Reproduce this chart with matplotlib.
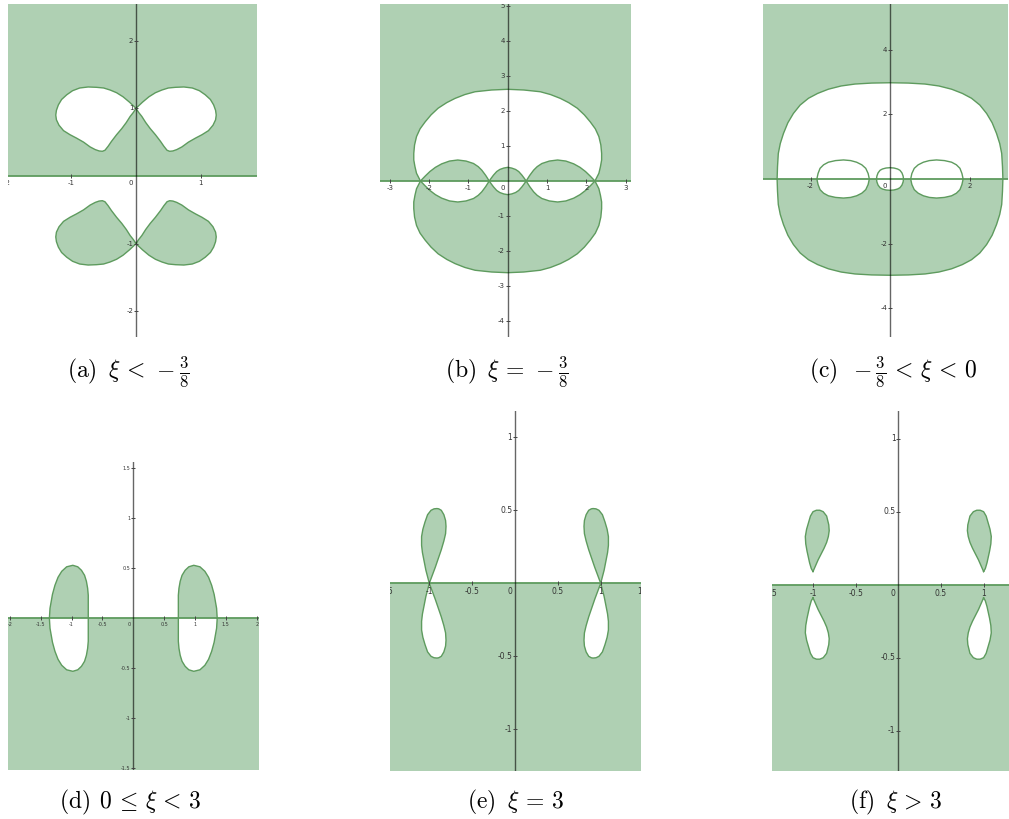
import matplotlib
matplotlib.use("Agg")
import matplotlib.pyplot as plt
from matplotlib.patches import Rectangle

plt.rcParams["mathtext.fontset"] = "cm"

FILL = "#afd0b3"
EDGE = "#5e9b5e"
W, H = 1009, 819

# (a) xi < -3/8 : upper-left lobe (white); the other lobes are mirror images
a_lobe_x = [0.0, -0.10, -0.20, -0.30, -0.40, -0.50, -0.61, -0.74, -0.87, -0.98, -1.07, -1.15,
            -1.20, -1.23, -1.24, -1.23, -1.19, -1.12, -1.02, -0.92, -0.81, -0.71, -0.63, -0.57,
            -0.52, -0.48, -0.43, -0.38, -0.30, -0.22, -0.15, -0.09, -0.04]
a_lobe_y = [1.0, 1.09, 1.17, 1.23, 1.27, 1.30, 1.31, 1.315, 1.30, 1.26, 1.20, 1.13,
            1.05, 0.97, 0.90, 0.83, 0.75, 0.67, 0.61, 0.56, 0.50, 0.43, 0.39, 0.37,
            0.365, 0.38, 0.44, 0.51, 0.61, 0.70, 0.79, 0.88, 0.94]

# (b) xi = -3/8 : quarter of the big oval (left crossing -> top), upper halves of small lobes
b_oval_x = [-2.22, -2.32, -2.36, -2.39, -2.39, -2.37, -2.32, -2.23, -2.10, -1.95, -1.77,
            -1.55, -1.34, -1.09, -0.83, -0.41, 0.0]
b_oval_y = [0.0, 0.22, 0.41, 0.60, 0.79, 1.03, 1.27, 1.49, 1.69, 1.89, 2.08,
            2.24, 2.36, 2.47, 2.55, 2.60, 2.62]
b_lobe_x = [-2.22, -2.10, -1.98, -1.84, -1.68, -1.48, -1.27, -1.06, -0.87, -0.75, -0.66, -0.56, -0.47]
b_lobe_y = [0.0, 0.14, 0.27, 0.39, 0.49, 0.57, 0.60, 0.57, 0.50, 0.41, 0.31, 0.16, 0.0]
b_mid_x = [-0.47, -0.42, -0.36, -0.28, -0.20, -0.10, 0.0]
b_mid_y = [0.0, 0.08, 0.17, 0.27, 0.33, 0.37, 0.39]

# (c) -3/8 < xi < 0
c_oval_x = [-2.84, -2.83, -2.81, -2.76, -2.68, -2.57, -2.43, -2.26, -2.05, -1.82, -1.55,
            -1.23, -0.88, -0.46, 0.0]
c_oval_y = [0.0, 0.38, 0.79, 1.10, 1.41, 1.74, 2.03, 2.29, 2.50, 2.65, 2.78,
            2.88, 2.94, 2.97, 2.98]
c_lobe_x = [-1.84, -1.81, -1.76, -1.67, -1.55, -1.37, -1.17, -0.99, -0.84, -0.71, -0.61, -0.55, -0.52]
c_lobe_y = [0.0, 0.17, 0.33, 0.44, 0.52, 0.57, 0.59, 0.57, 0.52, 0.44, 0.33, 0.17, 0.0]
c_mid_x = [-0.34, -0.33, -0.30, -0.25, -0.19, -0.10, 0.0]
c_mid_y = [0.0, 0.09, 0.19, 0.27, 0.31, 0.34, 0.35]

# (d) 0 <= xi < 3 : upper half of the left lobe
d_lobe_x = [-1.36, -1.35, -1.31, -1.27, -1.22, -1.16, -1.08, -0.98, -0.90, -0.84,
            -0.79, -0.76, -0.74, -0.73, -0.73]
d_lobe_y = [0.0, 0.10, 0.24, 0.33, 0.41, 0.47, 0.515, 0.53, 0.515, 0.48,
            0.43, 0.37, 0.30, 0.23, 0.0]

# (e) xi = 3 : upper-left loop
e_loop_x = [-1.0, -0.965, -0.93, -0.895, -0.86, -0.83, -0.81, -0.805, -0.81, -0.83, -0.86,
            -0.89, -0.91, -0.945, -0.98, -1.02, -1.05, -1.075, -1.09, -1.09, -1.08, -1.06, -1.04, -1.02]
e_loop_y = [0.0, 0.055, 0.11, 0.17, 0.23, 0.29, 0.34, 0.39, 0.43, 0.47, 0.50,
            0.51, 0.512, 0.51, 0.50, 0.47, 0.42, 0.37, 0.32, 0.26, 0.21, 0.15, 0.09, 0.045]

# (f) xi > 3 : upper-left teardrop
f_drop_x = [-1.0, -0.97, -0.94, -0.905, -0.87, -0.84, -0.82, -0.81, -0.815, -0.84, -0.88,
            -0.92, -0.96, -1.00, -1.03, -1.05, -1.075, -1.09, -1.085, -1.07, -1.04, -1.02]
f_drop_y = [0.09, 0.13, 0.17, 0.21, 0.25, 0.29, 0.33, 0.37, 0.41, 0.47, 0.50,
            0.51, 0.51, 0.50, 0.47, 0.43, 0.38, 0.33, 0.28, 0.23, 0.15, 0.11]

captions = [r"$\mathrm{(a)}\;\;\xi\,<\,-\frac{3}{8}$",
            r"$\mathrm{(b)}\;\;\xi\,=\,-\frac{3}{8}$",
            r"$\mathrm{(c)}\;\;-\frac{3}{8}\,<\,\xi\,<\,0$",
            r"$\mathrm{(d)}\;\,0\,\leq\,\xi\,<\,3$",
            r"$\mathrm{(e)}\;\;\xi\,=\,3$",
            r"$\mathrm{(f)}\;\;\xi\,>\,3$"]


def neg(v):
    return [-t for t in v]


def quarter_to_half(xs, ys):
    return xs + neg(xs[::-1][1:]), ys + ys[::-1][1:]


def half_to_full(xs, ys):
    return xs + xs[::-1][1:-1], ys + neg(ys[::-1])[1:-1]


def draw_panel(box, origin, scale, up_bg, down_bg, shapes, xticks, yticks, fs):
    x0, y0, x1, y1 = box
    ox, oy = origin
    sx, sy = scale
    ax = fig.add_axes([x0 / W, 1 - y1 / H, (x1 - x0) / W, (y1 - y0) / H])
    xlim = ((x0 - ox) / sx, (x1 - ox) / sx)
    ylim = ((oy - y1) / sy, (oy - y0) / sy)
    ax.set_xlim(xlim)
    ax.set_ylim(ylim)
    ax.axis("off")
    ax.axhspan(0, ylim[1], color=up_bg, lw=0, zorder=0)
    ax.axhspan(ylim[0], 0, color=down_bg, lw=0, zorder=0)
    upper = Rectangle((xlim[0], 0), xlim[1] - xlim[0], ylim[1], transform=ax.transData)
    lower = Rectangle((xlim[0], ylim[0]), xlim[1] - xlim[0], -ylim[0], transform=ax.transData)
    for xs, ys, c_up, c_down in shapes:
        for c, clip in ((c_up, upper), (c_down, lower)):
            p = ax.fill(xs, ys, color=c, lw=0, zorder=1)[0]
            p.set_clip_path(clip)
    for xs, ys, _, _ in shapes:
        ax.plot(xs + xs[:1], ys + ys[:1], color=EDGE, lw=1.0, zorder=3,
                solid_joinstyle="round")
    ax.axhline(0, color=EDGE, lw=1.3, zorder=3)
    ax.axvline(0, color="black", alpha=0.6, lw=1.0, zorder=4)
    for t in xticks:
        ax.plot([t], [0], marker="|", ms=3, color="#444", mew=0.7, zorder=4)
        lab = ax.annotate(f"{t:g}", (t, 0), xytext=(0, -3), textcoords="offset points",
                          ha="center", va="top", fontsize=fs, color="#333",
                          annotation_clip=False)
        lab.set_clip_box(ax.bbox)
        lab.set_clip_on(True)
    for t in yticks:
        ax.plot([0], [t], marker="_", ms=3, color="#444", mew=0.7, zorder=4)
        lab = ax.annotate(f"{t:g}", (0, t), xytext=(-2, 0), textcoords="offset points",
                          ha="right", va="center", fontsize=fs, color="#333")
        lab.set_clip_box(ax.bbox)
        lab.set_clip_on(True)
    ax.annotate("0", (0, 0), xytext=(-2, -3), textcoords="offset points",
                ha="right", va="top", fontsize=fs, color="#333")
    return ax


fig = plt.figure(figsize=(W / 100, H / 100), dpi=100)

# (a)
shapes_a = []
for fx in (1, -1):
    xs = [fx * v for v in a_lobe_x]
    shapes_a.append((xs, a_lobe_y, "white", "white"))
    shapes_a.append((xs, neg(a_lobe_y), FILL, FILL))
draw_panel((8, 4, 257, 337), (136, 176), (64.7, 67.7), FILL, "white", shapes_a,
           [-2, -1, 1], [-2, -1, 1, 2], 5)

# (b)
bx, by = half_to_full(*quarter_to_half(b_oval_x, b_oval_y))
shapes_b = [(bx, by, "white", FILL)]
lx, ly = half_to_full(b_lobe_x, b_lobe_y)
shapes_b.append((lx, ly, FILL, "white"))
shapes_b.append((neg(lx), ly, FILL, "white"))
mx, my = half_to_full(*quarter_to_half(b_mid_x, b_mid_y))
shapes_b.append((mx, my, FILL, "white"))
draw_panel((380, 4, 631, 337), (507.7, 181), (39.3, 35), FILL, "white", shapes_b,
           [-3, -2, -1, 1, 2, 3], [-4, -3, -2, -1, 1, 2, 3, 4, 5], 5)

# (c)
cx, cy = half_to_full(*quarter_to_half(c_oval_x, c_oval_y))
shapes_c = [(cx, cy, "white", FILL)]
lx, ly = half_to_full(c_lobe_x, c_lobe_y)
shapes_c.append((lx, ly, "white", "white"))
shapes_c.append((neg(lx), ly, "white", "white"))
mx, my = half_to_full(*quarter_to_half(c_mid_x, c_mid_y))
shapes_c.append((mx, my, "white", "white"))
draw_panel((763, 4, 1008, 337), (890, 179), (39.75, 32.3), FILL, "white", shapes_c,
           [-2, 2], [-4, -2, 2, 4], 5)

# (d)
lx, ly = half_to_full(d_lobe_x, d_lobe_y)
shapes_d = [(lx, ly, FILL, "white"), (neg(lx), ly, FILL, "white")]
draw_panel((8, 462, 259, 770), (133.3, 618.3), (61.7, 100), "white", FILL, shapes_d,
           [-2, -1.5, -1, -0.5, 0.5, 1, 1.5, 2], [-1.5, -1, -0.5, 0.5, 1, 1.5], 3.5)

# (e)
shapes_e = []
for fx in (1, -1):
    xs = [fx * v for v in e_loop_x]
    shapes_e.append((xs, e_loop_y, FILL, FILL))
    shapes_e.append((xs, neg(e_loop_y), "white", "white"))
draw_panel((390, 411, 641, 771), (515, 583.3), (85.7, 146), "white", FILL, shapes_e,
           [-1.5, -1, -0.5, 0.5, 1, 1.5], [-1, -0.5, 0.5, 1], 5.5)

# (f)
shapes_f = []
for fx in (1, -1):
    xs = [fx * v for v in f_drop_x]
    shapes_f.append((xs, f_drop_y, FILL, FILL))
    shapes_f.append((xs, neg(f_drop_y), "white", "white"))
draw_panel((772, 411, 1009, 771), (898.3, 584.7), (85.3, 146), "white", FILL, shapes_f,
           [-1.5, -1, -0.5, 0.5, 1], [-1, -0.5, 0.5, 1], 5.5)

cap_pos = [(128, 378), (507, 378), (893, 378), (130, 808), (515, 808), (896, 808)]
for (px, py), txt in zip(cap_pos, captions):
    fig.text(px / W, 1 - py / H, txt, ha="center", va="baseline", fontsize=17)

fig.savefig("out.png", dpi=100)
